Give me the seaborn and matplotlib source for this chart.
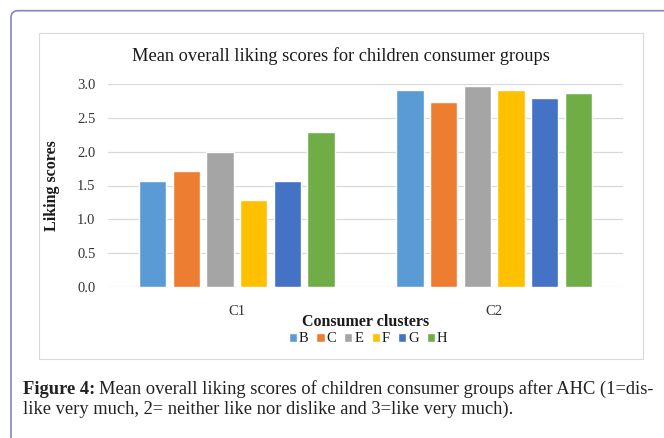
import matplotlib
matplotlib.use("Agg")
import matplotlib.pyplot as plt
from matplotlib.patches import FancyBboxPatch, Rectangle
import seaborn as sns
import pandas as pd

# Mean liking scores per consumer cluster and product group
clusters = ["C1", "C2"]
groups = ["B", "C", "E", "F", "G", "H"]
c1_scores = [1.56, 1.71, 2.00, 1.28, 1.56, 2.29]
c2_scores = [2.92, 2.74, 2.98, 2.91, 2.79, 2.87]
y_ticks = [0.0, 0.5, 1.0, 1.5, 2.0, 2.5, 3.0]
colors = ["#5B9BD5", "#ED7D31", "#A5A5A5", "#FFC000", "#4472C4", "#70AD47"]

df = pd.DataFrame({
    "cluster": [clusters[0]] * len(groups) + [clusters[1]] * len(groups),
    "group": groups * 2,
    "score": c1_scores + c2_scores,
})

sns.set_theme(style="white")
plt.rcParams["font.family"] = ["Liberation Serif", "DejaVu Serif"]

W, H = 664, 438
fig = plt.figure(figsize=(W / 100, H / 100), dpi=100)

def px(x0, y0, x1, y1):
    """Figure-fraction rect from pixel box (top-left origin)."""
    return [x0 / W, 1 - y1 / H, (x1 - x0) / W, (y1 - y0) / H]

# Outer page frame with a rounded corner
frame = FancyBboxPatch((0.11, -0.5), 7.0, 4.38 - 0.107 + 0.5,
                       boxstyle="round,pad=0,rounding_size=0.07",
                       transform=fig.dpi_scale_trans, fill=False,
                       edgecolor="#8684bd", linewidth=1.2, zorder=0)
fig.patches.append(frame)

# Chart area border
r = px(39.3, 33, 643.3, 359.3)
fig.patches.append(Rectangle((r[0], r[1]), r[2], r[3], transform=fig.transFigure,
                             fill=False, edgecolor="#d9d9d9", linewidth=0.8, zorder=0))

ax = fig.add_axes(px(108, 84.3, 623, 286.7))
sns.barplot(data=df, x="cluster", y="score", hue="group", order=clusters,
            hue_order=groups, palette=colors, width=0.785, gap=0.19,
            saturation=1, ax=ax, legend=True, zorder=3)

ax.set_ylim(0, 3.0)
ax.set_yticks(y_ticks)
ax.set_yticklabels([f"{t:.1f}" for t in y_ticks])
ax.set_xlim(-0.5, 1.5)
ax.grid(axis="y", color="#d9d9d9", linewidth=0.9, zorder=0)
ax.set_axisbelow(True)
for s in ax.spines.values():
    s.set_visible(False)
ax.tick_params(axis="both", length=0, labelsize=10.5, labelcolor="#333333")
ax.tick_params(axis="y", pad=9)
ax.tick_params(axis="x", pad=13)

ax.set_ylabel("Liking scores", fontsize=11.5, fontweight="bold", color="#1a1a1a", labelpad=12)
ax.set_xlabel("Consumer clusters", fontsize=11.5, fontweight="bold", color="#1a1a1a", labelpad=-3)

fig.text(341 / W, 1 - 56 / H, "Mean overall liking scores for children consumer groups",
         ha="center", va="center", fontsize=13.2, color="#1a1a1a")

leg = ax.legend(loc="center", bbox_to_anchor=(368 / W, 1 - 339 / H),
                bbox_transform=fig.transFigure, ncol=6, frameon=False,
                fontsize=10.5, handlelength=0.55, handleheight=0.55,
                handletextpad=0.15, columnspacing=0.55, borderpad=0)
for t in leg.get_texts():
    t.set_color("#1a1a1a")

# Caption below the chart
fig.canvas.draw()
renderer = fig.canvas.get_renderer()
cap_fs = 13.3
t1 = fig.text(23 / W, 1 - 389 / H, "Figure 4:", fontsize=cap_fs, fontweight="bold",
              ha="left", va="center", color="#222222")
bb = t1.get_window_extent(renderer)
fig.text((bb.x1 + 4) / W, 1 - 389 / H,
         "Mean overall liking scores of children consumer groups after AHC (1=dis-",
         fontsize=cap_fs, ha="left", va="center", color="#222222")
fig.text(23 / W, 1 - 409 / H,
         "like very much, 2= neither like nor dislike and 3=like very much).",
         fontsize=cap_fs, ha="left", va="center", color="#222222")

fig.savefig("out.png", dpi=100, facecolor="white")
